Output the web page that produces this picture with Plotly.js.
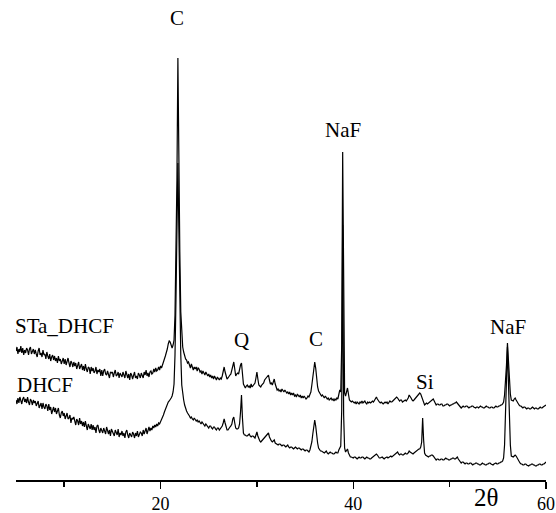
<!DOCTYPE html>
<html>
<head>
<meta charset="utf-8">
<script src="https://cdn.plot.ly/plotly-3.0.1.min.js"></script>
<style>html,body{margin:0;padding:0;background:#fff;}#chart{width:556px;height:513px;}</style>
</head>
<body>
<div id="chart"></div>
<script>
// XRD scan: 2θ from 5° to 60°, step 0.1°
const scanStart = 5;
const scanStep = 0.1;

// Intensity (a.u.) of STa_DHCF (upper pattern, plotted with offset)
const staDhcf = [
  129,133,126,131,128,134,127,132,125,130,
  127,132,130,125,131,133,126,128,131,126,
  130,126,123,129,132,125,127,123,130,125,
  126,121,128,124,121,126,119,123,125,120,
  124,119,122,117,124,119,121,116,120,122,
  116,121,115,120,122,117,113,119,117,113,
  118,114,117,111,116,118,111,113,116,110,
  114,109,116,111,108,113,112,106,113,109,
  112,107,109,113,106,110,108,111,104,110,
  104,109,111,106,105,109,106,102,108,107,
  108,103,107,110,104,105,108,102,107,105,
  103,108,104,102,109,106,102,106,100,107,
  105,101,106,108,102,104,101,107,105,102,
  107,104,102,108,105,110,104,107,103,108,
  109,106,107,111,108,112,109,110,113,110,
  114,112,116,118,121,124,127,131,136,139,
  138,134,132,135,140,165,230,300,422,300,
  228,168,142,133,128,124,121,120,117,118,
  115,112,116,113,110,113,111,113,109,112,
  111,108,109,106,109,107,105,108,106,104,
  106,103,105,102,104,101,104,102,100,103,
  102,100,102,101,104,108,113,108,103,101,
  102,104,105,106,110,115,118,111,104,106,
  107,106,111,115,117,107,96,94,92,94,
  95,93,94,92,96,93,94,95,97,102,
  108,101,95,94,93,95,96,97,100,101,
  102,104,105,100,96,97,95,98,101,96,
  92,90,91,89,90,88,91,89,88,90,
  89,87,88,86,88,85,87,85,87,84,
  85,83,86,84,83,85,82,84,82,84,
  83,81,82,84,83,85,88,95,104,113,
  118,112,101,93,89,87,86,84,85,83,
  82,84,83,81,82,80,81,82,80,81,
  79,81,80,82,81,85,90,88,135,328,
  130,87,84,88,92,86,80,79,78,79,
  78,77,78,76,78,77,76,78,77,79,
  77,78,79,77,76,78,77,78,77,78,
  79,78,80,82,83,81,79,78,77,78,
  77,76,77,78,77,78,76,78,79,78,
  78,79,80,81,82,83,82,80,79,80,
  80,78,79,80,80,79,80,82,85,84,
  82,80,79,80,81,82,83,85,86,87,
  86,83,79,76,75,76,77,76,77,78,
  78,80,81,81,79,77,75,76,76,75,
  75,76,76,74,74,75,75,76,76,75,
  74,75,75,76,76,77,77,78,77,75,
  74,73,72,73,74,73,73,74,74,73,
  72,73,73,74,74,73,72,72,73,73,
  72,73,74,73,73,72,72,73,74,73,
  73,72,72,73,73,72,72,73,74,73,
  73,74,74,75,75,76,78,85,98,115,
  137,115,98,86,80,79,79,81,82,80,
  78,76,75,74,74,73,72,73,73,72,
  71,72,72,71,71,72,73,72,71,72,
  72,71,71,72,73,72,72,73,74,74,
  75
];

// Intensity (a.u.) of DHCF (lower pattern)
const dhcf = [
  80,76,82,77,83,79,76,81,83,78,
  81,77,83,78,75,81,79,75,80,77,
  79,74,77,79,72,75,77,71,77,73,
  71,76,74,69,76,70,73,66,71,73,
  68,72,66,70,72,65,62,67,69,64,
  67,61,65,67,61,62,65,57,62,61,
  63,58,55,61,59,55,62,56,59,54,
  58,53,59,54,50,56,54,51,56,50,
  55,50,53,47,54,55,50,47,52,50,
  47,52,49,46,53,49,46,50,44,51,
  49,46,44,50,48,45,51,43,47,45,
  49,44,47,42,48,50,45,42,47,45,
  43,48,46,42,47,44,49,43,45,48,
  47,44,50,46,49,52,46,50,53,49,
  52,50,54,52,55,53,56,54,57,56,
  58,60,62,65,68,71,74,77,78,79,
  80,82,84,88,96,125,180,250,317,250,
  178,125,95,86,80,75,71,69,67,66,
  64,62,63,61,60,62,61,59,60,58,
  59,57,56,58,57,55,54,56,55,53,
  52,54,54,52,51,53,53,51,50,52,
  52,50,51,52,54,57,61,57,52,50,
  50,52,53,54,56,61,63,57,52,51,
  51,52,56,68,85,62,47,45,45,44,
  44,45,46,44,43,44,44,43,42,45,
  48,44,40,39,38,39,40,41,42,43,
  44,46,47,43,40,39,38,39,40,37,
  36,35,35,36,36,35,34,35,35,34,
  33,34,35,33,32,33,33,32,31,32,
  33,32,31,32,32,31,30,31,31,30,
  29,30,30,29,28,30,33,38,46,55,
  60,54,44,37,32,30,29,29,28,28,
  27,28,29,27,26,27,28,27,27,26,
  26,27,28,27,27,30,33,34,70,255,
  65,32,28,29,31,27,24,23,23,22,
  22,23,23,22,21,22,23,22,22,23,
  23,22,21,22,23,22,22,21,21,22,
  23,23,24,25,26,25,23,22,22,23,
  23,22,21,22,23,23,22,23,24,24,
  23,24,25,26,27,28,28,26,25,26,
  26,25,25,26,27,26,26,27,29,28,
  27,26,26,27,28,28,29,30,31,31,
  33,38,62,40,27,25,24,23,23,24,
  24,25,25,24,23,21,20,21,21,20,
  20,21,21,20,20,21,22,21,21,20,
  20,21,21,22,22,21,21,22,23,21,
  20,18,17,18,18,17,16,17,17,16,
  16,17,17,16,15,16,16,17,17,16,
  16,15,15,16,17,16,16,15,15,16,
  16,17,17,16,15,15,16,17,17,16,
  16,17,17,18,18,19,22,35,62,98,
  133,98,62,35,24,23,23,24,25,24,
  22,20,18,17,16,16,15,15,16,16,
  15,14,14,15,15,16,16,15,15,14,
  14,15,15,16,16,15,15,16,16,17,
  18
];

const tickValues = [20, 40, 60];
const tickLabels = ['20', '40', '60'];
const minorTickValues = [10, 30, 50];

// Peak labels: text, 2θ position, intensity position
const peakLabels = ['C', 'NaF', 'Q', 'C', 'Si', 'NaF'];
const peakLabelX = [21.7, 38.9, 28.45, 36.1, 47.45, 56.05];
const peakLabelY = [462, 350, 140, 141, 98, 153];

const seriesNames = ['STa_DHCF', 'DHCF'];
const seriesLabelPaperX = [-0.006, -0.002];
const seriesLabelY = [154, 95];

const twoTheta = staDhcf.map((_, i) => +(scanStart + i * scanStep).toFixed(1));

const serif = 'Liberation Serif, Times New Roman, Times, serif';

const traces = [
  {x: twoTheta, y: staDhcf, type: 'scatter', mode: 'lines', name: seriesNames[0],
   line: {color: '#000', width: 1.2}, hoverinfo: 'skip'},
  {x: twoTheta, y: dhcf, type: 'scatter', mode: 'lines', name: seriesNames[1],
   line: {color: '#000', width: 1.2}, hoverinfo: 'skip'}
];

const annotations = [];
peakLabels.forEach((t, i) => annotations.push({
  x: peakLabelX[i], y: peakLabelY[i], xref: 'x', yref: 'y', text: t, showarrow: false,
  xanchor: 'center', yanchor: 'middle', font: {family: serif, size: 21, color: '#000'}
}));
seriesNames.forEach((t, i) => annotations.push({
  x: seriesLabelPaperX[i], y: seriesLabelY[i], xref: 'paper', yref: 'y', text: t, showarrow: false,
  xanchor: 'left', yanchor: 'middle', font: {family: serif, size: 21, color: '#000'}
}));
annotations.push({
  x: 53.8, y: -0.036, xref: 'x', yref: 'paper', text: '2θ', showarrow: false,
  xanchor: 'center', yanchor: 'middle', font: {family: serif, size: 25, color: '#000'}
});

const layout = {
  width: 556, height: 513,
  margin: {l: 16, r: 10, t: 0, b: 33, pad: 0},
  paper_bgcolor: '#fff', plot_bgcolor: '#fff',
  showlegend: false,
  font: {family: serif, color: '#000'},
  xaxis: {
    range: [5, 60], showgrid: false, zeroline: false,
    showline: true, linecolor: '#000', linewidth: 1.5,
    ticks: 'outside', ticklen: 7, tickwidth: 1.5, tickcolor: '#000',
    tickmode: 'array', tickvals: tickValues, ticktext: tickLabels,
    tickfont: {family: serif, size: 18, color: '#000'},
    minor: {tickmode: 'array', tickvals: minorTickValues, ticks: 'outside', ticklen: 5, tickwidth: 1.5, tickcolor: '#000', showgrid: false}
  },
  yaxis: {
    range: [0, 480], visible: false, showgrid: false, zeroline: false, fixedrange: true
  },
  annotations: annotations
};

Plotly.newPlot('chart', traces, layout, {displayModeBar: false, staticPlot: true});
</script>
</body>
</html>
